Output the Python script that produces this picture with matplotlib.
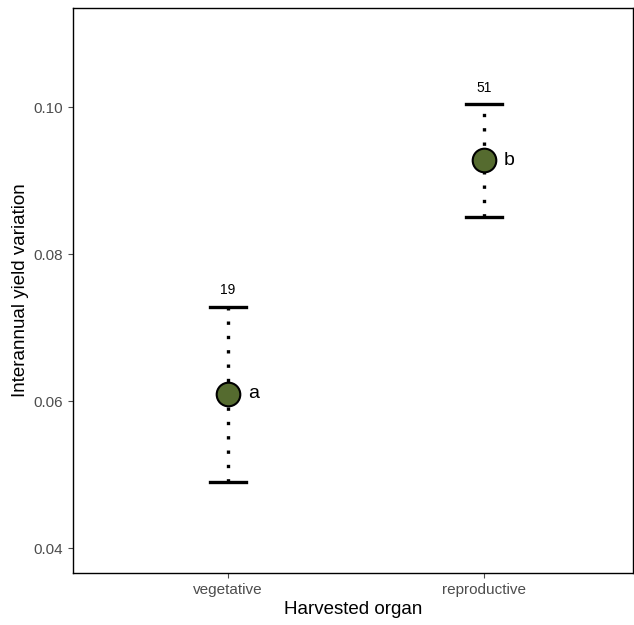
import matplotlib

matplotlib.use("Agg")
import matplotlib.pyplot as plt

plt.rcParams["font.family"] = ["Liberation Sans", "DejaVu Sans"]

# values
organs = ["vegetative", "reproductive"]
means = [0.0610, 0.0928]
lower = [0.0490, 0.0850]
upper = [0.0728, 0.1004]
n_obs = [19, 51]
groups = ["a", "b"]

fig = plt.figure(figsize=(6.34, 6.25), dpi=100)
ax = fig.add_axes([0.1151, 0.0832, 0.8833, 0.904])

xs = [1, 2]
cap = 0.072
for x, m, lo, hi, n, g in zip(xs, means, lower, upper, n_obs, groups):
    ax.plot([x, x], [lo, hi], color="black", lw=2.4, ls=(0, (1, 3.3)),
            dash_capstyle="butt", zorder=2)
    ax.plot([x - cap, x + cap], [lo, lo], color="black", lw=2.4, zorder=2)
    ax.plot([x - cap, x + cap], [hi, hi], color="black", lw=2.4, zorder=2)
    ax.plot(x, m, "o", ms=17, mfc="#556B2F", mec="black", mew=1.5, zorder=3)
    ax.text(x + 0.077, m, g, fontsize=14, va="center", ha="left")
    ax.annotate(str(n), (x, hi), xytext=(0, 7), textcoords="offset points",
                ha="center", va="bottom", fontsize=10)

ax.set_xlim(0.3945, 2.582)
ax.set_ylim(0.0366, 0.1135)
ax.set_xticks(xs)
ax.set_xticklabels(organs)
ax.set_yticks([0.04, 0.06, 0.08, 0.10])
ax.set_yticklabels(["0.04", "0.06", "0.08", "0.10"])
ax.tick_params(colors="#4D4D4D", labelsize=11, length=3.5, width=0.8)
for s in ax.spines.values():
    s.set_linewidth(1.0)
ax.set_xlabel("Harvested organ", fontsize=13.5, labelpad=3)
ax.set_ylabel("Interannual yield variation", fontsize=13.5, labelpad=3)

fig.savefig("out.png", dpi=100)
